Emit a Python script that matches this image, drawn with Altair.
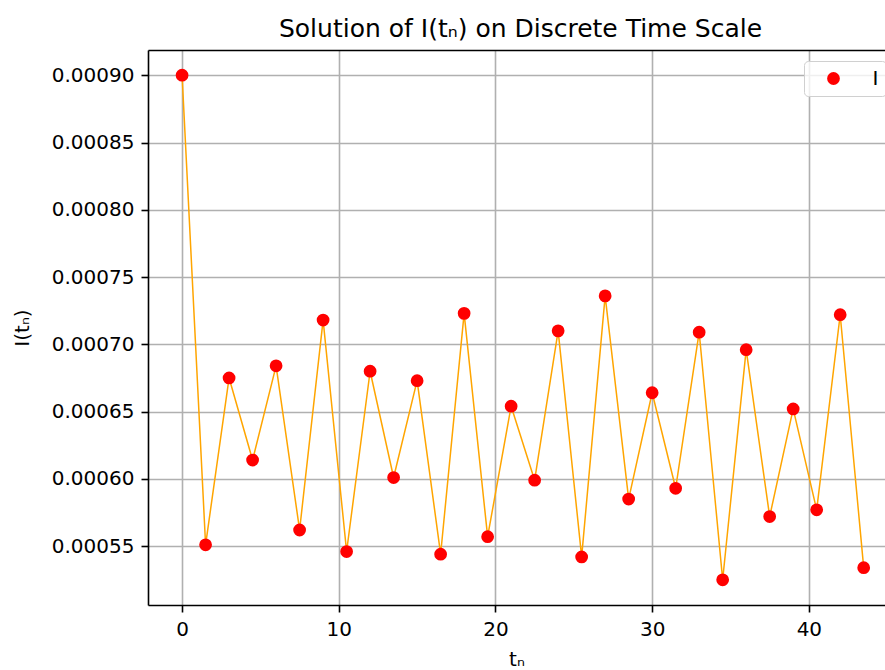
import altair as alt
import pandas as pd

# ---- data ----
t_values = [i * 1.5 for i in range(30)]
I_values = [0.000900, 0.000551, 0.000675, 0.000614, 0.000684, 0.000562,
            0.000718, 0.000546, 0.000680, 0.000601, 0.000673, 0.000544,
            0.000723, 0.000557, 0.000654, 0.000599, 0.000710, 0.000542,
            0.000736, 0.000585, 0.000664, 0.000593, 0.000709, 0.000525,
            0.000696, 0.000572, 0.000652, 0.000577, 0.000722, 0.000534]
series_name = ["I"] * len(t_values)
y_ticks = [0.00055, 0.00060, 0.00065, 0.00070, 0.00075, 0.00080, 0.00085, 0.00090]
x_ticks = [0, 10, 20, 30, 40]

df = pd.DataFrame({"t": t_values, "I": I_values, "series": series_name})

# matplotlib-like 5% margins
ymin, ymax = min(I_values), max(I_values)
yr = ymax - ymin
y_dom = [ymin - 0.05 * yr, ymax + 0.05 * yr]
xr = max(t_values) - min(t_values)
x_left = min(t_values) - 0.05 * xr
x_dom = [x_left, 44.86]  # right part of the figure is cropped

FONT = "DejaVu Sans"

x_scale = alt.Scale(domain=x_dom, nice=False, zero=False)
y_scale = alt.Scale(domain=y_dom, nice=False, zero=False)

line = alt.Chart(df).mark_line(color="orange", strokeWidth=1.5).encode(
    x=alt.X("t:Q", scale=x_scale,
            axis=alt.Axis(values=x_ticks, title="tₙ", format="d",
                          titlePadding=10)),
    y=alt.Y("I:Q", scale=y_scale,
            axis=alt.Axis(values=y_ticks, format=".5f", title="I(tₙ)",
                          titlePadding=19)),
)

points = alt.Chart(df).mark_circle(size=163, opacity=1).encode(
    x=alt.X("t:Q", scale=x_scale,
            axis=alt.Axis(orient="top", labels=False, ticks=False, grid=False,
                          domain=True, title=None)),
    y=alt.Y("I:Q", scale=y_scale),
    color=alt.Color("series:N",
                    scale=alt.Scale(domain=["I"], range=["red"]),
                    legend=alt.Legend(title=None, orient="none",
                                      legendX=656, legendY=11,
                                      padding=7.5, symbolOffset=12,
                                      labelOffset=29, symbolSize=163,
                                      symbolType="circle",
                                      symbolStrokeWidth=0,
                                      labelFontSize=20, labelFont=FONT,
                                      labelColor="black",
                                      labelExpr="datum.label + '\u2003\u2003'",
                                      fillColor="rgba(255,255,255,0.8)",
                                      strokeColor="#d0d0d0",
                                      cornerRadius=4)),
)

chart = alt.layer(line, points).resolve_scale(x="independent").properties(
    width=737,
    height=555,
    background="white",
    autosize=alt.AutoSizeParams(type="none"),
    padding={"left": 148, "top": 50, "right": 0, "bottom": 65},
    title=alt.TitleParams("Solution of I(tₙ) on Discrete Time Scale",
                          font=FONT, fontSize=25, fontWeight="normal",
                          color="black", anchor="middle",
                          offset=8, dx=4),
).configure_view(stroke=None).configure_axis(
    labelFont=FONT, labelFontSize=20, labelColor="black",
    titleFont=FONT, titleFontSize=20, titleFontWeight="normal", titleColor="black",
    domainColor="black", domainWidth=1.6,
    tickColor="black", tickWidth=1.6, tickSize=7, labelPadding=7,
    gridColor="#b0b0b0", gridWidth=1.6,
)

chart.save("out.html", embed_options={"renderer": "svg", "actions": False})
